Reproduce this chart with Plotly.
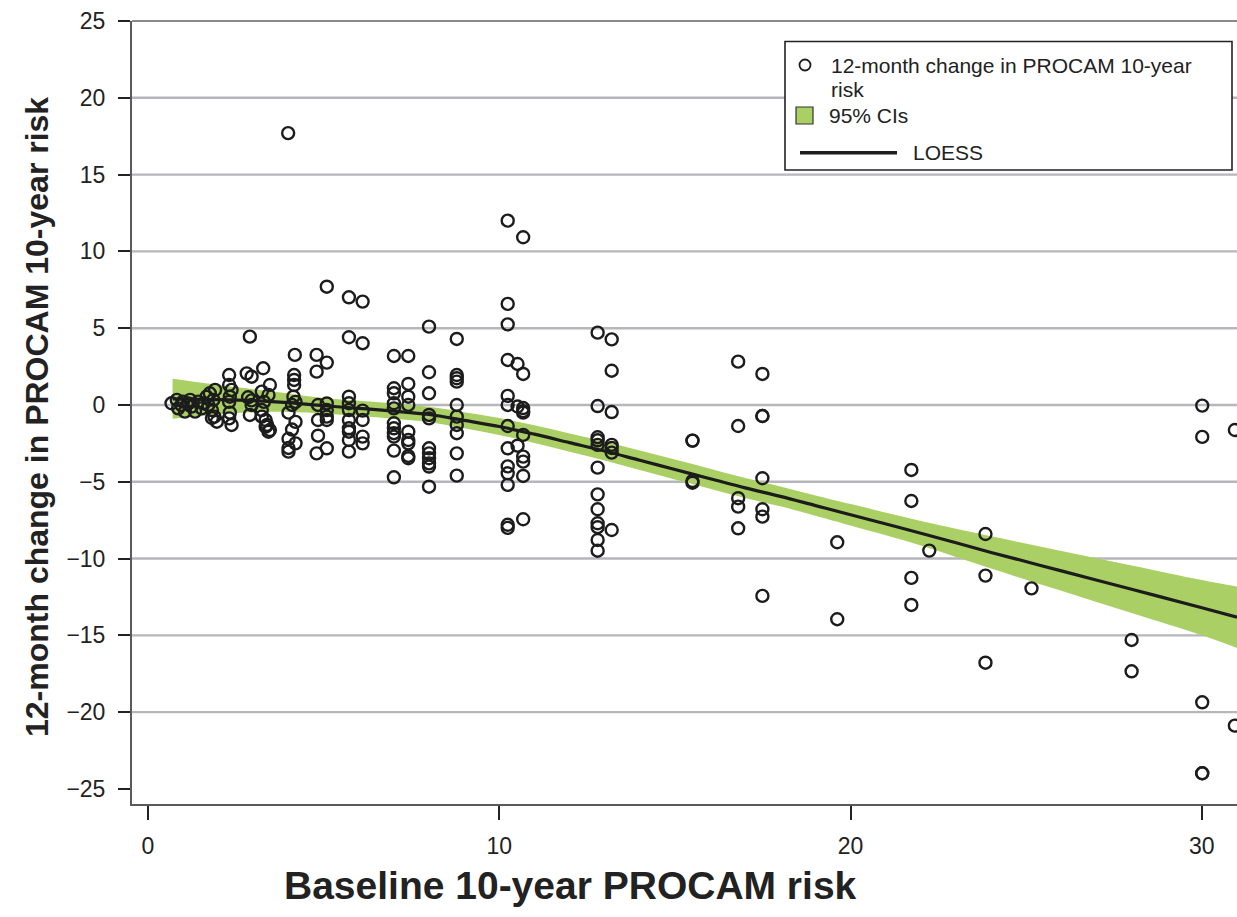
import plotly.graph_objects as go

# ---- data -------------------------------------------------------------
# Baseline 10-year PROCAM risk (%) per participant
baseline_risk = [
    0.67, 0.82, 0.86, 0.95, 1.0, 1.05, 1.15, 1.2, 1.24, 1.34, 1.43, 1.53, 1.6, 1.67, 1.72, 1.76, 1.82, 1.82, 1.86, 1.89, 1.91, 1.96,
    2.31, 2.31, 2.38, 2.33, 2.33, 2.31, 2.38, 2.31,
    2.9, 2.81, 2.95, 2.95, 2.9, 2.95, 2.85,
    3.28, 3.47, 3.24, 3.43, 3.24, 3.24, 3.35, 3.39, 3.47, 3.43, 3.35, 3.3,
    3.99, 4.18, 4.16, 4.16, 4.16, 4.14, 4.2, 4.0, 4.2, 4.1, 4.0, 4.2, 4.0, 4.0, 4.1,
    4.8, 4.8, 5.09, 5.09, 5.09, 5.09, 5.09, 5.09, 5.09, 4.84, 4.84, 4.84, 4.8,
    5.72, 5.72, 5.72, 5.72, 5.72, 5.72, 5.72, 5.72, 5.72, 5.72,
    6.11, 6.11, 6.11, 6.11, 6.11, 6.11,
    7.0, 7.0, 7.0, 7.0, 7.0, 7.0, 7.0, 7.0, 7.0, 7.0, 7.0,
    7.41, 7.41, 7.41, 7.41, 7.41, 7.41, 7.41, 7.41, 7.41,
    8.0, 8.0, 8.0, 8.0, 8.0, 8.0, 8.0, 8.0, 8.0, 8.0, 8.0,
    8.79, 8.79, 8.79, 8.79, 8.79, 8.79, 8.79, 8.79, 8.79, 8.79,
    10.24, 10.24, 10.24, 10.24, 10.24, 10.24, 10.24, 10.24, 10.24, 10.24, 10.24, 10.24, 10.24,
    10.52, 10.52, 10.52,
    10.68, 10.68, 10.68, 10.68, 10.68, 10.68, 10.68, 10.68, 10.68, 10.68,
    12.8, 12.8, 12.8, 12.8, 12.8, 12.8, 12.8, 12.8, 12.8, 12.8, 12.8, 12.8,
    13.2, 13.2, 13.2, 13.2, 13.2, 13.2, 13.2,
    15.5, 15.5, 15.5, 15.5,
    16.8, 16.8, 16.8, 16.8, 16.8,
    17.49, 17.49, 17.49, 17.49, 17.49, 17.49, 17.49,
    19.62, 19.62,
    21.73, 21.73, 21.73, 21.73,
    22.24,
    23.84, 23.84, 23.84,
    25.15,
    28.0, 28.0,
    30.01, 30.01, 30.01, 30.01, 30.01,
    30.94, 30.94,
]

# 12-month change in PROCAM 10-year risk (percentage points)
change_12m = [
    0.11, 0.33, -0.22, 0.0, 0.22, -0.43, 0.1, 0.33, -0.11, -0.43, 0.22, -0.22, 0.1, 0.54, 0.0, 0.76, -0.85, -0.33, 0.33, -0.76, 0.98, -1.09,
    1.95, 1.30, 0.98, 0.54, -0.5, -0.87, -1.30, 0.2,
    4.45, 2.06, 1.84, 0.3, -0.65, 0.0, 0.5,
    2.39, 1.30, 0.87, 0.65, -0.33, -0.76, -0.98, -1.3, -1.63, -1.74, -1.41, 0.2,
    17.7, 3.26, 1.95, 1.63, 1.30, 0.54, 0.2, -0.5, -1.1, -1.6, -2.2, -2.5, -2.8, -3.04, 0.0,
    3.26, 2.17, 7.70, 2.76, 0.1, -0.33, -0.76, -0.98, -2.82, 0.0, -0.98, -2.0, -3.15,
    7.01, 4.41, 0.54, 0.11, -0.33, -0.98, -1.52, -1.74, -2.28, -3.04,
    6.73, 4.02, -0.37, -0.98, -2.06, -2.5,
    3.19, 1.09, 0.76, 0.11, -0.22, -1.19, -1.52, -1.84, -2.06, -2.97, -4.71,
    3.19, 1.37, 0.54, 0.0, -1.74, -2.28, -2.5, -3.32, -3.47,
    5.10, 2.13, 0.76, -0.65, -0.87, -2.82, -3.15, -3.47, -3.80, -4.01, -5.32,
    4.30, 1.95, 1.74, 1.52, 0.0, -0.76, -1.30, -1.84, -3.15, -4.60,
    12.0, 6.58, 5.25, 2.93, 0.59, 0.0, -1.37, -2.82, -4.0, -4.45, -5.2, -7.8, -8.0,
    2.67, -0.1, -2.65,
    10.92, 2.02, -0.2, -0.4, -0.5, -1.95, -3.36, -3.69, -4.62, -7.44,
    4.71, -0.07, -2.1, -2.3, -2.6, -4.08, -5.82, -6.79, -7.70, -7.96, -8.79, -9.49,
    4.27, 2.23, -0.46, -2.6, -2.8, -3.1, -8.14,
    -2.32, -2.32, -4.95, -5.06,
    2.82, -1.37, -6.07, -6.62, -8.03,
    2.02, -0.72, -0.72, -4.77, -6.79, -7.27, -12.43,
    -8.94, -13.95,
    -4.23, -6.25, -11.26, -13.02,
    -9.48,
    -8.40, -11.11, -16.78,
    -11.94,
    -15.3, -17.34,
    -0.04, -2.08, -19.36, -23.98, -23.98,
    -1.63, -20.88,
]

# LOESS smoother and its 95% confidence limits
loess_x = [0.7, 2, 3, 4, 5, 6, 7, 8, 9, 10, 11, 12, 13, 14, 15, 16, 17, 18, 19, 20, 22, 24, 26, 28, 30, 31]
loess_fit = [0.4, 0.35, 0.28, 0.15, -0.05, -0.22, -0.4, -0.62, -1.0, -1.4, -1.9, -2.45, -3.0, -3.6, -4.2,
             -4.8, -5.4, -5.95, -6.55, -7.15, -8.35, -9.6, -10.8, -12.0, -13.2, -13.82]
loess_lower = [-0.9, -0.6, -0.47, -0.45, -0.55, -0.72, -0.9, -1.12, -1.52, -1.95, -2.48, -3.05, -3.62, -4.24, -4.85,
               -5.45, -6.05, -6.6, -7.21, -7.85, -9.15, -10.65, -12.1, -13.55, -15.0, -15.82]
loess_upper = [1.7, 1.3, 1.03, 0.75, 0.45, 0.28, 0.1, -0.12, -0.48, -0.85, -1.32, -1.85, -2.38, -2.96, -3.55,
               -4.15, -4.75, -5.3, -5.89, -6.45, -7.55, -8.55, -9.5, -10.45, -11.4, -11.82]

y_ticks = [-25, -20, -15, -10, -5, 0, 5, 10, 15, 20, 25]
y_tick_labels = ["\u221225", "\u221220", "\u221215", "\u221210", "\u22125", "0", "5", "10", "15", "20", "25"]
x_ticks = [0, 10, 20, 30]
x_tick_labels = ["0", "10", "20", "30"]
grid_levels = [-20, -15, -10, -5, 0, 5, 10, 15, 20]

# ---- layout geometry (pixels) -----------------------------------------
W, H = 1237, 917
L, R, T, B = 132, 0, 21, 113
PW, PH = W - L - R, H - T - B

def px(x):
    return (x - L) / PW

def py(y):
    return (H - B - y) / PH

FONT = "Liberation Sans, Arial, Helvetica, sans-serif"
GREEN = "#aacf64"
INK = "#1c1c1c"

fig = go.Figure()

fig.add_trace(go.Scatter(x=loess_x, y=loess_upper, mode="lines", line=dict(width=0, shape="spline"),
                         hoverinfo="skip", showlegend=False))
fig.add_trace(go.Scatter(x=loess_x, y=loess_lower, mode="lines", line=dict(width=0, shape="spline"),
                         fill="tonexty", fillcolor=GREEN, hoverinfo="skip", showlegend=False))
fig.add_trace(go.Scatter(x=loess_x, y=loess_fit, mode="lines",
                         line=dict(color=INK, width=3.2, shape="spline"), showlegend=False))
fig.add_trace(go.Scatter(x=baseline_risk, y=change_12m, mode="markers",
                         marker=dict(symbol="circle-open", size=12, color=INK, line=dict(width=2.4, color=INK)),
                         showlegend=False))

shapes = []
for g in grid_levels:
    shapes.append(dict(type="line", xref="paper", yref="y", x0=0, x1=1, y0=g, y1=g,
                       line=dict(color="#b6b6bb", width=2.4), layer="below"))
# top frame line
shapes.append(dict(type="line", xref="paper", yref="paper", x0=0, x1=1, y0=1, y1=1,
                   line=dict(color="#8a8a8a", width=2), layer="below"))

# legend box
shapes.append(dict(type="rect", xref="paper", yref="paper", x0=px(785), x1=px(1232), y0=py(170), y1=py(41.5),
                   line=dict(color="#222222", width=1.6), fillcolor="white", layer="above"))
shapes.append(dict(type="circle", xref="paper", yref="paper", x0=px(799.5), x1=px(810.5), y0=py(70.5), y1=py(59.5),
                   line=dict(color=INK, width=1.8), layer="above"))
shapes.append(dict(type="rect", xref="paper", yref="paper", x0=px(796), x1=px(813), y0=py(124), y1=py(107),
                   line=dict(color="#333333", width=1.2), fillcolor=GREEN, layer="above"))
shapes.append(dict(type="line", xref="paper", yref="paper", x0=px(800), x1=px(897), y0=py(152.7), y1=py(152.7),
                   line=dict(color=INK, width=3.4), layer="above"))

legend_font = dict(family=FONT, size=21, color="#222222")
annotations = [
    dict(text="12-month change in PROCAM 10-year", x=px(829), y=py(65), xref="paper", yref="paper",
         xanchor="left", yanchor="middle", showarrow=False, font=legend_font),
    dict(text="risk", x=px(829), y=py(90), xref="paper", yref="paper",
         xanchor="left", yanchor="middle", showarrow=False, font=legend_font),
    dict(text="95% CIs", x=px(827), y=py(116), xref="paper", yref="paper",
         xanchor="left", yanchor="middle", showarrow=False, font=legend_font),
    dict(text="LOESS", x=px(911), y=py(153), xref="paper", yref="paper",
         xanchor="left", yanchor="middle", showarrow=False, font=legend_font),
    dict(text="<b>Baseline 10-year PROCAM risk</b>", x=px(570), y=py(885), xref="paper", yref="paper",
         xanchor="center", yanchor="middle", showarrow=False,
         font=dict(family=FONT, size=39, color="#222222")),
    dict(text="<b>12-month change in PROCAM 10-year risk</b>", x=px(37), y=py(417), xref="paper", yref="paper",
         xanchor="center", yanchor="middle", showarrow=False, textangle=-90,
         font=dict(family=FONT, size=32, color="#222222")),
]

axis_common = dict(showline=True, linecolor="#5a5a5a", linewidth=2, ticks="outside", tickcolor="#222222",
                   tickwidth=2, showgrid=False, zeroline=False,
                   tickfont=dict(family=FONT, size=23, color="#222222"))

fig.update_layout(
    width=W, height=H,
    margin=dict(l=L, r=R, t=T, b=B, pad=0),
    paper_bgcolor="white", plot_bgcolor="white",
    xaxis=dict(range=[-0.455, 31.0], tickvals=x_ticks, ticktext=x_tick_labels, ticklen=14,
               ticklabelstandoff=6, **axis_common),
    yaxis=dict(range=[-25.98, 25.0], tickvals=y_ticks, ticktext=y_tick_labels, ticklen=12,
               ticklabelstandoff=8, **axis_common),
    shapes=shapes,
    annotations=annotations,
    showlegend=False,
)

fig.write_html("out.html")
